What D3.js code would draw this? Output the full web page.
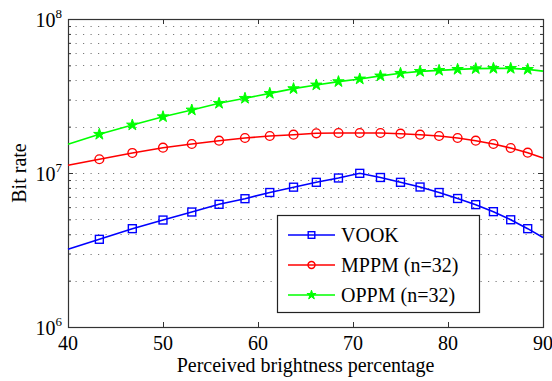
<!DOCTYPE html>
<html>
<head>
<meta charset="utf-8">
<script src="https://cdn.jsdelivr.net/npm/d3@7"></script>
<style>
  html, body { margin: 0; padding: 0; background: #fff; }
  svg { display: block; }
  svg text { font-family: 'Liberation Serif', 'DejaVu Serif', serif; }
</style>
</head>
<body>
<svg id="chart" width="552" height="381"></svg>
<script>
// ---- data ----
const brightness = [40, 43.30, 46.77, 50.00, 53.03, 55.90, 58.63, 61.24, 63.74, 66.14, 68.47,
                    70.71, 72.89, 75.00, 77.06, 79.06, 81.01, 82.92, 84.78, 86.60, 88.39, 90];
const vook = [3.20e6, 3.71e6, 4.35e6, 4.95e6, 5.58e6, 6.26e6, 6.81e6, 7.47e6, 8.09e6, 8.70e6, 9.28e6,
              9.95e6, 9.35e6, 8.70e6, 8.11e6, 7.47e6, 6.83e6, 6.23e6, 5.61e6, 4.97e6, 4.35e6, 3.81e6];
const mppm = [1.122e7, 1.228e7, 1.349e7, 1.460e7, 1.543e7, 1.621e7, 1.688e7, 1.739e7, 1.773e7, 1.811e7, 1.819e7,
              1.819e7, 1.819e7, 1.800e7, 1.773e7, 1.739e7, 1.688e7, 1.621e7, 1.543e7, 1.453e7, 1.355e7, 1.252e7];
const oppm = [1.536e7, 1.784e7, 2.05e7, 2.32e7, 2.565e7, 2.835e7, 3.055e7, 3.29e7, 3.53e7, 3.73e7, 3.92e7,
              4.08e7, 4.27e7, 4.44e7, 4.57e7, 4.64e7, 4.71e7, 4.76e7, 4.78e7, 4.78e7, 4.71e7, 4.59e7];
const seriesNames = ["VOOK", "MPPM (n=32)", "OPPM (n=32)"];
const xTicks = [40, 50, 60, 70, 80, 90];
const yMajorTicks = [1e6, 1e7, 1e8];
const yExponents = ["6", "7", "8"];
const xLabel = "Perceived brightness percentage";
const yLabel = "Bit rate";

// ---- layout ----
const svg = d3.select("#chart");
const L = 68, R = 543, T = 19, B = 327;
const x = d3.scaleLinear().domain([40, 90]).range([L, R]);
const y = d3.scaleLog().domain([1e6, 1e8]).range([B, T]);

const minorTicks = [];
[1e6, 1e7].forEach(d => { for (let k = 2; k <= 9; k++) minorTicks.push(k * d); });

// grid (horizontal dotted)
const grid = svg.append("g");
grid.selectAll("line").data(minorTicks.concat([1e7])).join("line")
  .attr("x1", L).attr("x2", R)
  .attr("y1", d => Math.round(y(d)) + 0.5).attr("y2", d => Math.round(y(d)) + 0.5)
  .attr("stroke", "#7a7a7a").attr("stroke-width", 1)
  .attr("stroke-dasharray", "1.2,6.3");

// axes with inward ticks
const axB = d3.axisBottom(x).tickValues(xTicks).tickSize(-5).tickFormat("");
const axT = d3.axisTop(x).tickValues(xTicks).tickSize(-5).tickFormat("");
svg.append("g").attr("transform", `translate(0,${B})`).call(axB);
svg.append("g").attr("transform", `translate(0,${T})`).call(axT);
const axL = d3.axisLeft(y).tickValues(yMajorTicks).tickSize(-5).tickFormat("");
const axR = d3.axisRight(y).tickValues(yMajorTicks).tickSize(-5).tickFormat("");
const axLm = d3.axisLeft(y).tickValues(minorTicks).tickSize(-3).tickFormat("");
const axRm = d3.axisRight(y).tickValues(minorTicks).tickSize(-3).tickFormat("");
svg.append("g").attr("transform", `translate(${L},0)`).call(axL);
svg.append("g").attr("transform", `translate(${R},0)`).call(axR);
svg.append("g").attr("transform", `translate(${L},0)`).call(axLm);
svg.append("g").attr("transform", `translate(${R},0)`).call(axRm);
svg.selectAll(".domain").remove();
svg.selectAll(".tick line").attr("stroke", "#333");
svg.selectAll("g").attr("font-family", null);

// box
svg.append("rect").attr("x", L + 0.5).attr("y", T + 0.5)
  .attr("width", R - L).attr("height", B - T)
  .attr("fill", "none").attr("stroke", "#333").attr("stroke-width", 1.2);

// tick labels
svg.append("g").selectAll("text").data(xTicks).join("text")
  .attr("x", d => x(d)).attr("y", 350)
  .attr("text-anchor", "middle").attr("font-size", 20)
  .text(d => d);

const yl = svg.append("g").selectAll("text").data(yMajorTicks).join("text")
  .attr("x", 62).attr("y", d => y(d) + 8)
  .attr("text-anchor", "end").attr("font-size", 20);
yl.append("tspan").text("10");
yl.append("tspan").attr("font-size", 13).attr("dy", -9).text((d, i) => yExponents[i]);

// axis titles
svg.append("text").attr("x", (L + R) / 2).attr("y", 372)
  .attr("text-anchor", "middle").attr("font-size", 20).text(xLabel);
svg.append("text").attr("transform", `translate(26,${(T + B) / 2}) rotate(-90)`)
  .attr("text-anchor", "middle").attr("font-size", 20).text(yLabel);

// series
function starPath(Ro) {
  const Ri = Ro * 0.382; let p = "";
  for (let i = 0; i < 10; i++) {
    const r = i % 2 ? Ri : Ro;
    const a = -Math.PI / 2 + i * Math.PI / 5;
    p += (i ? "L" : "M") + (r * Math.cos(a)).toFixed(2) + "," + (r * Math.sin(a)).toFixed(2);
  }
  return p + "Z";
}
const series = [
  { name: seriesNames[0], values: vook, color: "#0000ff", marker: "square" },
  { name: seriesNames[1], values: mppm, color: "#ff0000", marker: "circle" },
  { name: seriesNames[2], values: oppm, color: "#00ff00", marker: "star" }
];
const line = d3.line().x(d => x(d[0])).y(d => y(d[1]));

function drawMarker(g, type, color, scale) {
  if (type === "square") {
    const s = 5.5 * scale;
    g.append("rect").attr("x", -s).attr("y", -s).attr("width", 2 * s).attr("height", 2 * s)
      .attr("fill", "none").attr("stroke", color).attr("stroke-width", 1.4);
  } else if (type === "circle") {
    g.append("circle").attr("r", 4.4 * scale).attr("fill", "none")
      .attr("stroke", color).attr("stroke-width", 1.4);
  } else {
    g.append("path").attr("d", starPath(6 * scale)).attr("fill", color)
      .attr("stroke", color).attr("stroke-width", 1);
  }
}

const plot = svg.append("g");
series.forEach(s => {
  const pts = brightness.map((b, i) => [b, s.values[i]]);
  plot.append("path").attr("d", line(pts)).attr("fill", "none")
    .attr("stroke", s.color).attr("stroke-width", 1.6);
  pts.slice(1, -1).forEach(p => {
    const g = plot.append("g").attr("transform", `translate(${x(p[0])},${y(p[1])})`);
    drawMarker(g, s.marker, s.color, s.marker === "square" ? 0.72 : 1);
  });
});

// legend
const lg = svg.append("g");
lg.append("rect").attr("x", 277.5).attr("y", 215.5).attr("width", 202).attr("height", 97)
  .attr("fill", "#fff").attr("stroke", "#222").attr("stroke-width", 1.2);
series.forEach((s, i) => {
  const yy = 235 + i * 30;
  lg.append("line").attr("x1", 288).attr("x2", 335).attr("y1", yy).attr("y2", yy)
    .attr("stroke", s.color).attr("stroke-width", 1.6);
  const g = lg.append("g").attr("transform", `translate(311.5,${yy})`);
  drawMarker(g, s.marker, s.color, s.marker === "square" ? 0.6 : 0.8);
  lg.append("text").attr("x", 341).attr("y", yy + 7).attr("font-size", 20).text(s.name);
});
</script>
</body>
</html>
